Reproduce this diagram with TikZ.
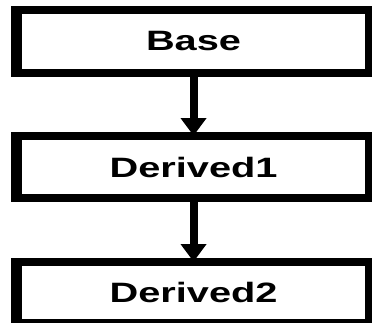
\documentclass[tikz,border=0pt]{standalone}
\usepackage{fontspec}
\setmainfont{Liberation Sans}
\usetikzlibrary{arrows.meta}

\tikzset{
  classbox/.style={draw=black, fill=white, line width=8pt, inner sep=0pt, outer sep=0pt,
    minimum width=249.3pt, font=\fontsize{28}{30}\selectfont\bfseries},
  inherits/.style={draw=black, line width=5.6pt,
    -{Triangle[width=17pt, length=18pt]}}
}

\begin{document}
\begin{tikzpicture}[x=1pt, y=1pt]
  \useasboundingbox (0,0) rectangle (372,-322);
  \clip (0,0) rectangle (372,-322);
  % the chart is drawn narrow and stretched sideways as a whole
  \begin{scope}[transform canvas={xscale=1.42}]
    \node[classbox, minimum height=63pt] (base) at (136.3,-41) {Base};
    \node[classbox, minimum height=62pt] (derived1) at (136.3,-167) {Derived1};
    \node[classbox, minimum height=61pt] (derived2) at (136.3,-292.5) {Derived2};
    \draw[inherits] (base.south) -- (derived1.north);
    \draw[inherits] (derived1.south) -- (derived2.north);
  \end{scope}
\end{tikzpicture}
\end{document}
